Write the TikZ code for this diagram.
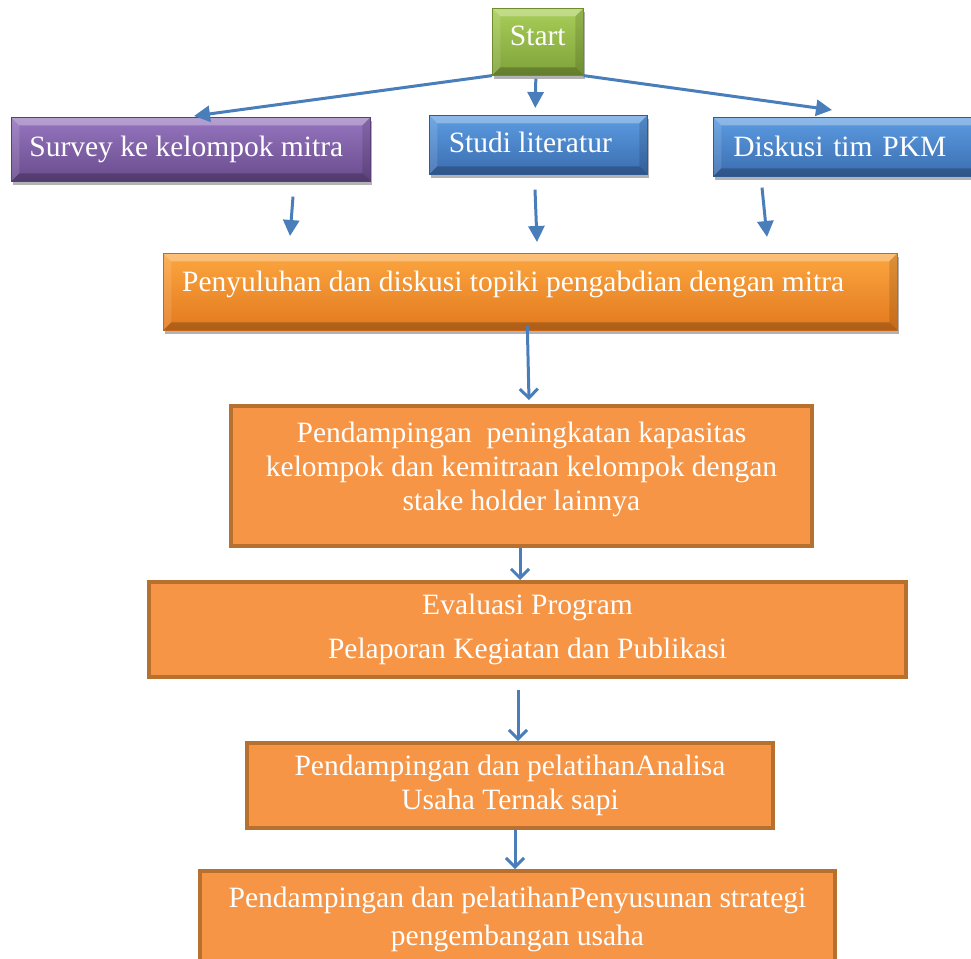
\documentclass[tikz,border=0pt]{standalone}
\usepackage{fontspec}
\setmainfont{Liberation Serif}
\usetikzlibrary{arrows.meta,shadows,calc}
\definecolor{arrowblue}{HTML}{4A7EBB}
\definecolor{greenT}{HTML}{A9CE58}
\definecolor{greenB}{HTML}{7FA23A}
\definecolor{greenD}{HTML}{6E8E2E}
\definecolor{purpT}{HTML}{9676BF}
\definecolor{purpB}{HTML}{694B8D}
\definecolor{purpD}{HTML}{5A3E7A}
\definecolor{blueT}{HTML}{5C9CE2}
\definecolor{blueB}{HTML}{3B6DB0}
\definecolor{blueD}{HTML}{2F5A92}
\definecolor{oranT}{HTML}{FCA640}
\definecolor{oranB}{HTML}{E2791E}
\definecolor{oranD}{HTML}{C8661A}
\definecolor{flatF}{HTML}{F69546}
\definecolor{flatD}{HTML}{B8702F}
\tikzset{
  bevel/.style={rectangle, inner sep=0pt, text=white, line width=0.6pt,
    drop shadow={shadow xshift=1.5pt, shadow yshift=-4pt, opacity=0.3, fill=black},
    path picture={
      \fill[white,opacity=0.30] (path picture bounding box.north west) -- (path picture bounding box.north east)
        -- ([xshift=-8pt,yshift=-8pt]path picture bounding box.north east) -- ([xshift=8pt,yshift=-8pt]path picture bounding box.north west) -- cycle;
      \fill[white,opacity=0.12] (path picture bounding box.north west) -- ([xshift=8pt,yshift=-8pt]path picture bounding box.north west)
        -- ([xshift=8pt,yshift=8pt]path picture bounding box.south west) -- (path picture bounding box.south west) -- cycle;
      \fill[black,opacity=0.12] (path picture bounding box.north east) -- ([xshift=-8pt,yshift=-8pt]path picture bounding box.north east)
        -- ([xshift=-8pt,yshift=8pt]path picture bounding box.south east) -- (path picture bounding box.south east) -- cycle;
      \fill[black,opacity=0.22] (path picture bounding box.south west) -- (path picture bounding box.south east)
        -- ([xshift=-8pt,yshift=8pt]path picture bounding box.south east) -- ([xshift=8pt,yshift=8pt]path picture bounding box.south west) -- cycle;
    }},
  greenbox/.style={bevel, top color=greenT, bottom color=greenB, draw=greenD},
  purplebox/.style={bevel, top color=purpT, bottom color=purpB, draw=purpD},
  bluebox/.style={bevel, top color=blueT, bottom color=blueB, draw=blueD},
  orangebox/.style={bevel, top color=oranT, bottom color=oranB, draw=oranD},
  flatbox/.style={rectangle, draw=flatD, line width=4pt, fill=flatF, text=white, align=center, inner sep=0pt},
  arr/.style={draw=arrowblue, line width=3pt, -{Triangle[length=16pt,width=16pt]}},
  arrv/.style={draw=arrowblue, line width=3pt, -{Straight Barb[length=9pt,width=18pt]}},
  lbl/.style={text=white, inner sep=0pt}
}
\begin{document}
\begin{tikzpicture}[x=1pt,y=-1pt,font=\fontsize{29.5}{34}\selectfont]
\useasboundingbox (0,0) rectangle (971,958);
\clip (0,0) rectangle (971,958);

% top row
\node[greenbox, minimum width=91pt, minimum height=67pt, anchor=north west] (start) at (492,8) {\raisebox{6pt}[\height][\depth]{Start}};
\node[purplebox, minimum width=359pt, minimum height=64pt, anchor=north west] (survey) at (11,117) {Survey ke kelompok mitra\hspace*{9pt}};
\node[bluebox, minimum width=218pt, minimum height=59pt, anchor=north west] (studi) at (429,115) {\raisebox{2pt}[\height][\depth]{Studi literatur}\hspace*{16pt}};
\node[bluebox, minimum width=290pt, minimum height=59pt, anchor=north west, text width=250pt, align=left, inner xsep=20pt] (diskusi) at (713,117) {Diskusi tim PKM};

% Penyuluhan
\node[orangebox, minimum width=734pt, minimum height=77pt, anchor=north west] (pen) at (163,253) {};
\node[lbl, anchor=base west] (penT) at (182,291) {Penyuluhan dan diskusi topiki pengabdian dengan mitra};

% flat boxes
\node[flatbox, minimum width=581pt, minimum height=140pt, anchor=north west] (box1) at (229,404)
  {\raisebox{6pt}[\height][\depth]{\begin{tabular}{@{}c@{}}Pendampingan\ \ peningkatan kapasitas\\kelompok dan kemitraan kelompok dengan\\stake holder lainnya\end{tabular}}};
\node[flatbox, minimum width=757pt, minimum height=95pt, anchor=north west, font=\fontsize{29.5}{44}\selectfont] (eval) at (147,580)
  {Evaluasi Program\\Pelaporan Kegiatan dan Publikasi};
\node[flatbox, minimum width=526pt, minimum height=85pt, anchor=north west] (ana) at (245,741)
  {Pendampingan dan pelatihanAnalisa\\Usaha Ternak sapi};
\node[flatbox, minimum width=635pt, minimum height=96pt, anchor=north west, font=\fontsize{29.5}{38}\selectfont] (strat) at (198,869)
  {Pendampingan dan pelatihanPenyusunan strategi\\pengembangan usaha};

% arrows from Start
\draw[arr] (start.south west) -- ($(survey.north west)+(183,-1)$);
\draw[arr] ($(start.south)+(-2,3)$) -- ($(studi.north)+(-3,-7)$);
\draw[arr] (start.south east) -- ($(diskusi.north west)+(119,-7)$);

% arrows to Penyuluhan
\draw[arr] ($(survey.south west)+(282,15)$) -- ($(pen.north west)+(127,-17)$);
\draw[arr] ($(studi.south west)+(106,15)$) -- ($(pen.north west)+(374,-11)$);
\draw[arr] ($(diskusi.south west)+(49,11)$) -- ($(pen.north west)+(604,-16)$);

% vertical chain
\draw[arrv] ($(pen.south)+(-3,-5)$) -- ($(box1.north)+(7.5,-4)$);
\coordinate (b1s) at ($(box1.south)+(-1.5,0)$);
\draw[arrv] (b1s) -- (b1s |- eval.north);
\coordinate (evs) at ($(eval.south)+(-9.5,11)$);
\draw[arrv] (evs) -- (evs |- ana.north);
\coordinate (ans) at ($(ana.south)+(5,0)$);
\draw[arrv] (ans) -- (ans |- strat.north);
\end{tikzpicture}
\end{document}
